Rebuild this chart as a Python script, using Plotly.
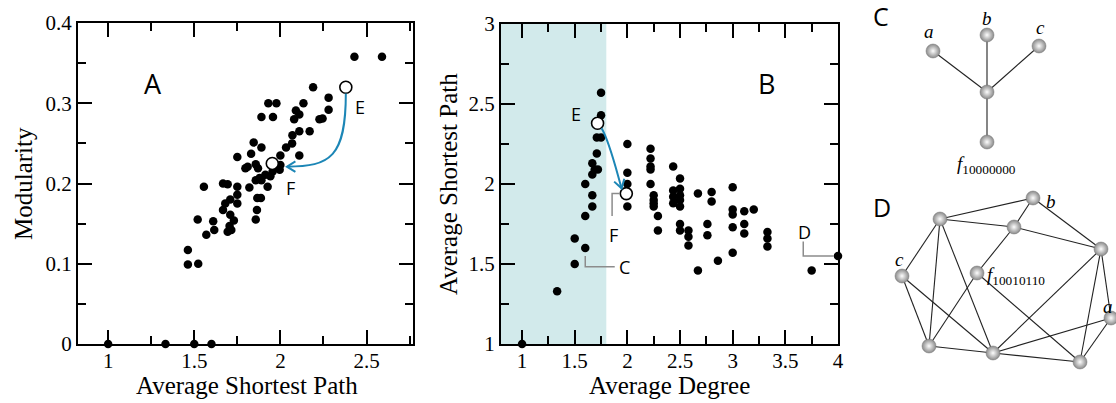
import math
import plotly.graph_objects as go

W, H = 1116, 403

# ---------------- Panel A data: Average Shortest Path vs Modularity ----------------
a_path = [1.0, 1.333, 1.5, 1.6,
          1.463, 1.523, 1.463,
          1.57, 1.52, 1.61, 1.616, 1.556,
          1.667, 1.694, 1.75, 1.75, 1.709, 1.68, 1.75, 1.667,
          1.709, 1.73, 1.705, 1.694, 1.715,
          1.866, 1.887, 1.864, 1.857,
          1.82, 1.926, 1.89, 1.857, 1.913, 1.942, 1.955,
          1.996, 2.0, 1.797, 1.857, 1.87, 1.75, 1.83, 1.81, 1.88,
          1.845, 1.89, 2.0, 2.11, 2.033, 2.068, 2.07,
          2.11, 2.17, 2.08, 2.11, 2.09, 2.134,
          1.93, 1.977, 1.89, 1.957,
          2.227, 2.245, 2.28, 2.28, 2.19,
          2.43, 2.59]
a_mod = [0.0, 0.0, 0.0, 0.0,
         0.099, 0.100, 0.117,
         0.136, 0.155, 0.153, 0.142, 0.196,
         0.200, 0.199, 0.196, 0.186, 0.180, 0.175, 0.175, 0.167,
         0.161, 0.154, 0.147, 0.140, 0.142,
         0.182, 0.182, 0.167, 0.155,
         0.195, 0.196, 0.204, 0.204, 0.211, 0.209, 0.215,
         0.217, 0.223, 0.219, 0.224, 0.219, 0.233, 0.237, 0.221, 0.207,
         0.251, 0.245, 0.235, 0.235, 0.245, 0.250, 0.260,
         0.265, 0.265, 0.280, 0.286, 0.291, 0.300,
         0.300, 0.300, 0.283, 0.283,
         0.280, 0.281, 0.292, 0.307, 0.320,
         0.358, 0.358]
a_open_path = [2.38, 1.953]   # E, F
a_open_mod = [0.320, 0.225]

# ---------------- Panel B data: Average Degree vs Average Shortest Path ----------------
b_deg = [1.0, 1.333, 1.5, 1.5, 1.6, 1.6, 1.667, 1.667, 1.6, 1.667, 1.69, 1.667, 1.72,
         1.71, 1.71, 1.75, 1.75, 1.75,
         2.0, 2.0, 2.0, 2.0,
         2.22, 2.22, 2.22, 2.22, 2.22, 2.25, 2.25, 2.25, 2.25, 2.29, 2.29,
         2.435, 2.5, 2.435, 2.435, 2.435, 2.5, 2.5, 2.5, 2.5, 2.5, 2.5, 2.58, 2.58, 2.58,
         2.67, 2.67, 2.76, 2.76, 2.8, 2.8, 2.86,
         3.0, 3.0, 3.0, 3.0, 3.0, 3.11, 3.11, 3.11, 3.2,
         3.33, 3.33, 3.33, 3.75, 4.0]
b_path = [1.0, 1.33, 1.5, 1.66, 1.6, 1.8, 1.86, 1.93, 2.0, 2.06, 2.09, 2.13, 2.09,
          2.19, 2.29, 2.29, 2.43, 2.57,
          2.25, 2.07, 2.0, 1.86,
          2.22, 2.16, 2.11, 2.09, 2.0, 1.93, 1.90, 1.88, 1.86, 1.80, 1.71,
          2.11, 2.035, 1.96, 1.92, 1.88, 1.97, 1.93, 1.90, 1.86, 1.75, 1.71, 1.71, 1.67, 1.615,
          1.94, 1.46, 1.75, 1.68, 1.95, 1.89, 1.52,
          1.98, 1.84, 1.81, 1.73, 1.57, 1.83, 1.75, 1.69, 1.84,
          1.70, 1.66, 1.61, 1.46, 1.55]
b_open_deg = [1.717, 1.99]   # E, F
b_open_path = [2.38, 1.94]
shade_deg = [0.8, 1.8]
c_point = (1.6, 1.6)
d_point = (4.0, 1.55)

# ---------------- Panels C and D: small networks (layout in figure pixels) ----------------
c_nodes_x = [933, 987, 1039, 987, 987]
c_nodes_y = [51, 35, 46, 92, 142]
c_edges = [(0, 3), (1, 3), (2, 3), (3, 4)]

d_nodes_x = [1033, 940, 1014, 1101, 902, 977, 1111, 929, 993, 1080]
d_nodes_y = [198, 219, 227, 249, 276, 273, 318, 346, 353, 362]
d_edges = [(1, 0), (0, 2), (0, 3), (1, 2), (2, 3), (2, 5), (1, 4), (1, 7), (1, 8),
           (4, 7), (4, 8), (5, 7), (5, 9), (3, 8), (3, 9), (3, 6), (6, 8), (6, 9),
           (7, 8), (8, 9)]

SERIF = "Liberation Serif"
SANS = "Open Sans"
BLUE = "#1c86b6"
GREY = "#8c8c8c"

# axis geometry (domains in pixels, ranges)
A_X_DOM, A_X_RNG = (78, 413), (0.825, 2.77)
A_Y_DOM, A_Y_RNG = (23, 344), (0.0, 0.4)
B_X_DOM, B_X_RNG = (501, 838), (0.8, 4.0)
B_Y_DOM, B_Y_RNG = (24, 344), (1.0, 3.0)

def scale(dom, rng):
    return (dom[1] - dom[0]) / (rng[1] - rng[0])

def arrowhead(tip, back_px, sx, sy, length=10.0, ang=32.0):
    """V arrowhead path (data coords) at tip; back_px = direction from tip back along shaft, in px (x right, y up)."""
    bx, by = back_px
    n = math.hypot(bx, by)
    bx, by = bx / n, by / n
    pts = []
    for s in (1, -1):
        a = math.radians(ang * s)
        rx = bx * math.cos(a) - by * math.sin(a)
        ry = bx * math.sin(a) + by * math.cos(a)
        pts.append((tip[0] + rx * length / sx, tip[1] + ry * length / sy))
    return f"M {pts[0][0]},{pts[0][1]} L {tip[0]},{tip[1]} L {pts[1][0]},{pts[1][1]}"

fig = go.Figure()

# shaded region in B
fig.add_shape(type="rect", xref="x2", yref="y2", x0=shade_deg[0], x1=shade_deg[1],
              y0=B_Y_RNG[0], y1=B_Y_RNG[1], fillcolor="#d2eaeb", line_width=0, layer="below")

# Panel A points
fig.add_trace(go.Scatter(x=a_path, y=a_mod, mode="markers", xaxis="x", yaxis="y",
                         marker=dict(size=8.5, color="black", line=dict(width=0)), cliponaxis=False,
                         showlegend=False, hoverinfo="skip"))
fig.add_trace(go.Scatter(x=a_open_path, y=a_open_mod, mode="markers", xaxis="x", yaxis="y",
                         marker=dict(size=12, color="white", line=dict(color="black", width=1.6)),
                         cliponaxis=False, showlegend=False, hoverinfo="skip"))

# Panel B points
fig.add_trace(go.Scatter(x=b_deg, y=b_path, mode="markers", xaxis="x2", yaxis="y2",
                         marker=dict(size=8.5, color="black", line=dict(width=0)), cliponaxis=False,
                         showlegend=False, hoverinfo="skip"))
fig.add_trace(go.Scatter(x=b_open_deg, y=b_open_path, mode="markers", xaxis="x2", yaxis="y2",
                         marker=dict(size=12, color="white", line=dict(color="black", width=1.6)),
                         cliponaxis=False, showlegend=False, hoverinfo="skip"))

# Arrow E -> F (panel A)
sxA, syA = scale(A_X_DOM, A_X_RNG), scale(A_Y_DOM, A_Y_RNG)
ex, ey = a_open_path[0], a_open_mod[0]
fx, fy = a_open_path[1], a_open_mod[1]
tipA = (fx + 0.085, fy - 0.004)
fig.add_shape(type="path", xref="x", yref="y",
              path=f"M {ex},{ey-0.008} C {ex},{tipA[1]+0.012} {ex-0.09},{tipA[1]} {tipA[0]},{tipA[1]}",
              line=dict(color=BLUE, width=2))
fig.add_shape(type="path", xref="x", yref="y", path=arrowhead(tipA, (1, 0), sxA, syA),
              line=dict(color=BLUE, width=2))

# Arrow E -> F (panel B)
sxB, syB = scale(B_X_DOM, B_X_RNG), scale(B_Y_DOM, B_Y_RNG)
bex, bey = b_open_deg[0], b_open_path[0]
bfx, bfy = b_open_deg[1], b_open_path[1]
tipB = (bfx - 0.045, bfy + 0.033)
p2B = (bfx - 0.10, bfy + 0.16)
fig.add_shape(type="path", xref="x2", yref="y2",
              path=f"M {bex+0.038},{bey-0.032} C {bex+0.11},{bey-0.11} {p2B[0]},{p2B[1]} {tipB[0]},{tipB[1]}",
              line=dict(color=BLUE, width=2))
fig.add_shape(type="path", xref="x2", yref="y2",
              path=arrowhead(tipB, ((p2B[0] - tipB[0]) * sxB, (p2B[1] - tipB[1]) * syB), sxB, syB),
              line=dict(color=BLUE, width=2))

# Leader lines in B
cx, cy = c_point
fig.add_shape(type="path", xref="x2", yref="y2",
              path=f"M {cx},{cy-0.05} L {cx},{cy-0.117} L {cx+0.28},{cy-0.117}",
              line=dict(color=GREY, width=1.5))
fig.add_shape(type="path", xref="x2", yref="y2",
              path=f"M {bfx-0.06},{bfy} L {bfx-0.135},{bfy} L {bfx-0.135},{bfy-0.14}",
              line=dict(color=GREY, width=1.5))
dx, dy = d_point
fig.add_shape(type="path", xref="x2", yref="y2",
              path=f"M {dx-0.33},{dy+0.09} L {dx-0.33},{dy} L {dx-0.04},{dy}",
              line=dict(color=GREY, width=1.5))

# Networks
def edge_xy(nx, ny, edges):
    xs, ys = [], []
    for i, j in edges:
        xs += [nx[i], nx[j], None]
        ys += [ny[i], ny[j], None]
    return xs, ys

for nx, ny, ed in [(c_nodes_x, c_nodes_y, c_edges), (d_nodes_x, d_nodes_y, d_edges)]:
    exs, eys = edge_xy(nx, ny, ed)
    fig.add_trace(go.Scatter(x=exs, y=eys, mode="lines", xaxis="x3", yaxis="y3",
                             line=dict(color="#222", width=1.1), showlegend=False,
                             hoverinfo="skip", cliponaxis=False))
    fig.add_trace(go.Scatter(x=nx, y=ny, mode="markers", xaxis="x3", yaxis="y3",
                             marker=dict(size=14, color="#8a8a8a",
                                         gradient=dict(type="radial", color="#fdfdfd"),
                                         line=dict(width=0.5, color="#777")),
                             showlegend=False, hoverinfo="skip", cliponaxis=False))

# text annotations
def ann(x, y, text, xref, yref, size, family, xanchor="center", yanchor="middle", **kw):
    fig.add_annotation(x=x, y=y, text=text, xref=xref, yref=yref, showarrow=False,
                       xanchor=xanchor, yanchor=yanchor,
                       font=dict(size=size, family=family, color="black"), **kw)

ann(1.26, 0.325, "A", "x", "y", 27, SANS)
ann(ex + 0.085, ey - 0.025, "E", "x", "y", 18, SANS)
ann(fx + 0.105, fy - 0.031, "F", "x", "y", 18, SANS)
ann(3.32, 2.63, "B", "x2", "y2", 27, SANS)
ann(1.51, 2.44, "E", "x2", "y2", 18, SANS)
ann(1.865, 1.68, "F", "x2", "y2", 18, SANS)
ann(1.97, 1.483, "C", "x2", "y2", 18, SANS)
ann(3.68, 1.70, "D", "x2", "y2", 18, SANS)

ann(881, 16, "C", "x3", "y3", 25, SANS)
ann(882, 207, "D", "x3", "y3", 25, SANS)
ann(929, 31, "<i>a</i>", "x3", "y3", 19, SERIF)
ann(987, 18, "<i>b</i>", "x3", "y3", 19, SERIF)
ann(1040, 27, "<i>c</i>", "x3", "y3", 19, SERIF)
ann(987, 165, "<i>f</i><sub>10000000</sub>", "x3", "y3", 19, SERIF)
ann(1044, 201, "<i>b</i>", "x3", "y3", 19, SERIF, xanchor="left")
ann(900, 259, "<i>c</i>", "x3", "y3", 19, SERIF)
ann(1115, 306, "<i>a</i>", "x3", "y3", 19, SERIF, xanchor="right")
ann(985, 276, "<i>f</i><sub>10010110</sub>", "x3", "y3", 19, SERIF, xanchor="left")

# axis titles
ann(247 / W, 1 - 385 / H, "Average Shortest Path", "paper", "paper", 25, SERIF)
ann(669 / W, 1 - 385 / H, "Average Degree", "paper", "paper", 25, SERIF)
ann(23 / W, 1 - 184 / H, "Modularity", "paper", "paper", 25, SERIF, textangle=-90)
ann(448 / W, 1 - 184 / H, "Average Shortest Path", "paper", "paper", 25, SERIF, textangle=-90)

axis_common = dict(showline=True, linewidth=2, linecolor="black", mirror="ticks",
                   ticks="inside", ticklen=14, tickwidth=1.5, tickcolor="black",
                   showgrid=False, zeroline=False, automargin=False,
                   tickfont=dict(family=SERIF, size=21, color="black"))
minor_common = dict(ticks="inside", ticklen=8, tickwidth=1.5, tickcolor="black", showgrid=False)

def xdom(d):
    return [d[0] / W, d[1] / W]

def ydom(d):
    return [1 - d[1] / H, 1 - d[0] / H]

fig.update_layout(
    template="none",
    width=W, height=H, margin=dict(l=0, r=0, t=0, b=0, pad=0), autosize=False,
    plot_bgcolor="rgba(0,0,0,0)", paper_bgcolor="white", showlegend=False,
    xaxis=dict(domain=xdom(A_X_DOM), range=list(A_X_RNG), anchor="y",
               tickvals=[1, 1.5, 2, 2.5], ticktext=["1", "1.5", "2", "2.5"],
               minor=dict(tickvals=[1.25, 1.75, 2.25, 2.75], **minor_common),
               ticklabelstandoff=-3, **axis_common),
    yaxis=dict(domain=ydom(A_Y_DOM), range=list(A_Y_RNG), anchor="x",
               tickvals=[0, 0.1, 0.2, 0.3, 0.4], ticktext=["0", "0.1", "0.2", "0.3", "0.4"],
               minor=dict(tickvals=[0.05, 0.15, 0.25, 0.35], **minor_common),
               **axis_common),
    xaxis2=dict(domain=xdom(B_X_DOM), range=list(B_X_RNG), anchor="y2",
                tickvals=[1, 1.5, 2, 2.5, 3, 3.5, 4],
                ticktext=["1", "1.5", "2", "2.5", "3", "3.5", "4"],
                minor=dict(tickvals=[1.25, 1.75, 2.25, 2.75, 3.25, 3.75], **minor_common),
                ticklabelstandoff=-3, **axis_common),
    yaxis2=dict(domain=ydom(B_Y_DOM), range=list(B_Y_RNG), anchor="x2",
                tickvals=[1, 1.5, 2, 2.5, 3], ticktext=["1", "1.5", "2", "2.5", "3"],
                minor=dict(tickvals=[1.25, 1.75, 2.25, 2.75], **minor_common),
                **axis_common),
    xaxis3=dict(domain=[860 / W, 1], range=[860, 1116], visible=False, anchor="y3",
                automargin=False),
    yaxis3=dict(domain=[0, 1], range=[403, 0], visible=False, anchor="x3", automargin=False),
)

fig.write_html("out.html", config={"displayModeBar": False},
               post_script="document.body.style.margin='0';document.body.style.overflow='hidden';")
